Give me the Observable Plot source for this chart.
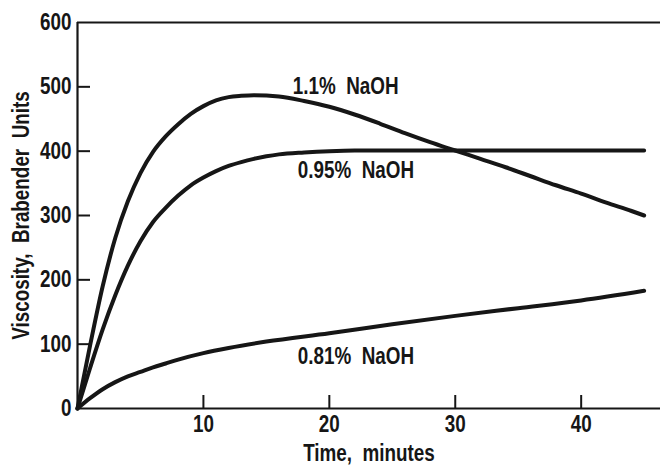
<!DOCTYPE html>
<html><head><meta charset="utf-8">
<script src="https://cdn.jsdelivr.net/npm/d3@7"></script>
<script src="https://cdn.jsdelivr.net/npm/@observablehq/plot@0.6"></script>
<style>body{margin:0;background:#fff}</style>
</head><body><div id="chart"></div>
<script>
// Data
const times110 = [0, 1, 2, 3, 4, 5, 6, 7, 8, 9, 10, 11, 12, 13, 14, 16, 18, 20, 22, 24, 26, 28, 30, 32, 34, 36, 38, 40, 42, 44, 45];
const values110 = [0, 98, 190, 265, 322, 366, 399, 423, 442, 458, 470, 479, 484, 486, 487, 485, 478, 469, 457, 443, 428, 414, 401, 388, 375, 361, 347, 334, 320, 307, 300];
const times095 = [0, 1, 2, 3, 4, 5, 6, 7, 8, 9, 10, 11, 12, 13, 14, 15, 16, 18, 20, 22, 25, 30, 35, 40, 45];
const values095 = [0, 63, 123, 176, 222, 260, 290, 312, 331, 347, 359, 369, 377, 383, 388, 392, 395, 398, 400, 401, 401, 401, 401, 401, 401];
const times081 = [0, 1, 2, 3, 4, 5, 6, 7, 8, 10, 12, 15, 20, 25, 30, 35, 40, 45];
const values081 = [0, 16, 30, 41, 50, 57, 64, 70, 76, 86, 94, 104, 117, 131, 144, 156, 168, 183];

const seriesNames = ["1.1% NaOH", "0.95% NaOH", "0.81% NaOH"];
const labelTexts = ["1.1%\u00a0\u00a0NaOH", "0.95%\u00a0\u00a0NaOH", "0.81%\u00a0\u00a0NaOH"];
const labelTimes = [17.1, 17.5, 17.5];
const labelValues = [501, 370, 81];

const xTicks = [10, 20, 30, 40];
const yTicks = [0, 100, 200, 300, 400, 500, 600];
const xLabel = "Time,\u00a0\u00a0minutes";
const yLabel = "Viscosity,\u00a0\u00a0Brabender\u00a0\u00a0Units";

const rows = [];
[[times110, values110], [times095, values095], [times081, values081]].forEach(([ts, vs], k) => {
  ts.forEach((t, i) => rows.push({series: seriesNames[k], t, v: vs[i]}));
});
const labels = labelTexts.map((text, i) => ({text, t: labelTimes[i], v: labelValues[i]}));

const INK = "#161616";
const FONT = "'Liberation Sans', Arial, sans-serif";

const chart = Plot.plot({
  width: 660,
  height: 467,
  marginLeft: 77,
  marginRight: 0,
  marginTop: 22,
  marginBottom: 59,
  x: {domain: [0, 46.3]},
  y: {domain: [0, 600]},
  style: {fontFamily: FONT, fontSize: "23px", fontWeight: "bold", color: INK, background: "#fff", overflow: "visible"},
  marks: [
    Plot.axisX(xTicks, {tickSize: 0, tickPadding: 7, label: null, fill: INK}),
    Plot.axisY(yTicks, {tickSize: 0, tickPadding: 6, label: null, fill: INK}),
    Plot.ruleX(xTicks, {x: d => d, y1: d => 0, y2: d => 0, insetTop: -13, stroke: INK, strokeWidth: 2}),
    Plot.ruleY(yTicks.filter(d => d > 0 && d < 600), {y: d => d, x1: d => 0, x2: d => 0, insetRight: -13, stroke: INK, strokeWidth: 2}),
    Plot.ruleY([0, 600], {stroke: INK, strokeWidth: 2}),
    Plot.ruleX([0], {stroke: INK, strokeWidth: 2.2}),
    Plot.line(rows, {x: "t", y: "v", z: "series", curve: "monotone-x", stroke: INK, strokeWidth: 4, strokeLinecap: "round", strokeLinejoin: "round"}),
    Plot.text(labels, {x: "t", y: "v", text: "text", textAnchor: "start", lineAnchor: "middle", fill: INK}),
    Plot.text([xLabel], {text: d => d, frameAnchor: "bottom", textAnchor: "middle", lineAnchor: "middle", dy: 45, fill: INK}),
    Plot.text([yLabel], {text: d => d, frameAnchor: "left", textAnchor: "middle", lineAnchor: "middle", rotate: -90, dx: -56, fill: INK})
  ]
});
// condense the lettering (the reference uses a condensed bold face)
chart.querySelectorAll("text").forEach(t => {
  const tr = t.getAttribute("transform") || "";
  t.setAttribute("transform", (tr + " scale(0.82,1)").trim());
});
document.getElementById("chart").appendChild(chart);
</script>
</body></html>
